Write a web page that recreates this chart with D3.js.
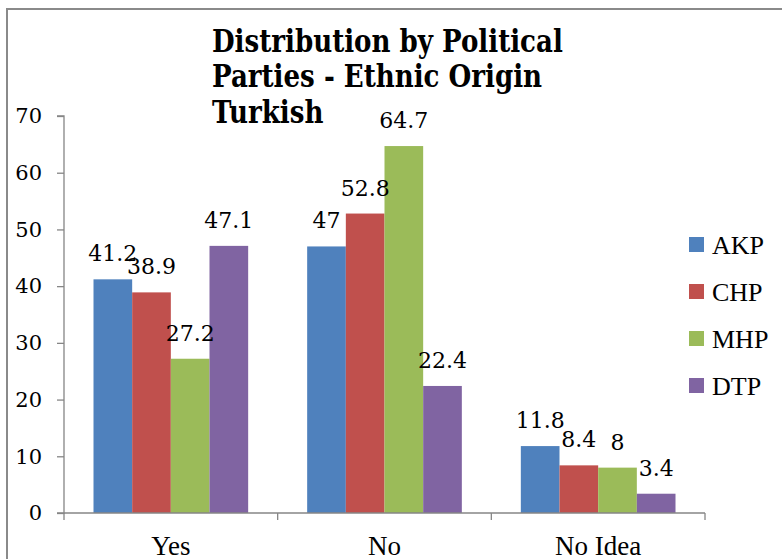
<!DOCTYPE html>
<html>
<head>
<meta charset="utf-8">
<script src="https://cdn.jsdelivr.net/npm/d3@7"></script>
<style>
  body { margin: 0; background: #fff; }
  svg { display: block; }
  .axis path, .axis line { stroke: #868686; stroke-width: 1.3; }
  .axis text { fill: #000; }
</style>
</head>
<body>
<svg id="chart" width="782" height="559"></svg>
<script>
var categories = ["Yes", "No", "No Idea"];
var parties = ["AKP", "CHP", "MHP", "DTP"];
var akpValues = [41.2, 47, 11.8];
var chpValues = [38.9, 52.8, 8.4];
var mhpValues = [27.2, 64.7, 8];
var dtpValues = [47.1, 22.4, 3.4];
var yTicks = [0, 10, 20, 30, 40, 50, 60, 70];
var titleLines = ["Distribution by Political", "Parties - Ethnic Origin", "Turkish"];

var seriesValues = [akpValues, chpValues, mhpValues, dtpValues];
var colors = ["#4F81BD", "#C0504D", "#9BBB59", "#8064A2"];

var svg = d3.select("#chart");

// chart frame (only top and left edges visible)
svg.append("path")
    .attr("d", "M7,559 L7,9 L782,9")
    .attr("fill", "none")
    .attr("stroke", "#8a8a8a")
    .attr("stroke-width", 2);

var plot = { left: 64, right: 705, top: 116, bottom: 513 };

var x = d3.scaleBand()
    .domain(categories)
    .range([plot.left, plot.right]);

var inner = d3.scaleBand()
    .domain(parties)
    .range([29.5, x.bandwidth() - 29.5]);

var y = d3.scaleLinear()
    .domain([0, 70])
    .range([plot.bottom, plot.top]);

// bars
var rows = [];
parties.forEach(function (p, i) {
    categories.forEach(function (c, j) {
        rows.push({ party: p, cat: c, value: seriesValues[i][j], color: colors[i] });
    });
});

svg.selectAll(".bar")
    .data(rows)
    .enter().append("rect")
    .attr("class", "bar")
    .attr("x", function (d) { return x(d.cat) + inner(d.party); })
    .attr("y", function (d) { return y(d.value); })
    .attr("width", inner.bandwidth())
    .attr("height", function (d) { return y(0) - y(d.value); })
    .attr("fill", function (d) { return d.color; });

// value labels
svg.selectAll(".bar-value")
    .data(rows)
    .enter().append("text")
    .attr("class", "bar-value")
    .attr("x", function (d) { return x(d.cat) + inner(d.party) + inner.bandwidth() / 2; })
    .attr("y", function (d) { return y(d.value) - 18; })
    .attr("text-anchor", "middle")
    .style("font-family", "'DejaVu Serif', serif")
    .style("font-size", "22px")
    .text(function (d) { return d.value; });

// y axis
var yAxis = svg.append("g")
    .attr("class", "axis")
    .attr("transform", "translate(" + plot.left + ",0)")
    .call(d3.axisLeft(y).tickValues(yTicks).tickSize(7).tickPadding(15));
yAxis.selectAll("text")
    .style("font-family", "'DejaVu Serif', serif")
    .style("font-size", "21px");
yAxis.select(".domain").attr("d", "M-7," + plot.top + "H0V" + plot.bottom + "H-7");

// x axis
var xAxis = svg.append("g")
    .attr("class", "axis")
    .attr("transform", "translate(0," + plot.bottom + ")");
xAxis.append("line")
    .attr("x1", plot.left).attr("x2", plot.right)
    .attr("y1", 0).attr("y2", 0);
xAxis.selectAll(".xtick")
    .data(categories.map(function (c) { return x(c); }).concat([plot.right]))
    .enter().append("line")
    .attr("class", "xtick")
    .attr("x1", function (d) { return d; }).attr("x2", function (d) { return d; })
    .attr("y1", 0).attr("y2", 7);
xAxis.selectAll(".xlabel")
    .data(categories)
    .enter().append("text")
    .attr("class", "xlabel")
    .attr("x", function (d) { return x(d) + x.bandwidth() / 2; })
    .attr("y", 42)
    .attr("text-anchor", "middle")
    .style("font-family", "'Liberation Serif', serif")
    .style("font-size", "27px")
    .text(function (d) { return d; });

// legend
var legend = svg.append("g").attr("transform", "translate(689,245)");
var items = legend.selectAll(".item")
    .data(parties)
    .enter().append("g")
    .attr("class", "item")
    .attr("transform", function (d, i) { return "translate(0," + (i * 47) + ")"; });
items.append("rect")
    .attr("x", 0).attr("y", -8)
    .attr("width", 15).attr("height", 15)
    .attr("fill", function (d, i) { return colors[i]; });
items.append("text")
    .attr("x", 23).attr("y", 9)
    .style("font-family", "'Liberation Serif', serif")
    .style("font-size", "26px")
    .text(function (d) { return d; });

// title: tall bold serif, squeezed so the first line spans about 351px
var titleG = svg.append("g").attr("transform", "translate(212,52)");
var title = titleG.append("text")
    .style("font-family", "'DejaVu Serif', serif")
    .style("font-weight", "bold")
    .style("font-size", "31px");
title.selectAll("tspan")
    .data(titleLines)
    .enter().append("tspan")
    .attr("x", 0)
    .attr("dy", function (d, i) { return i === 0 ? 0 : 35.5; })
    .text(function (d) { return d; });
var firstLine = title.select("tspan").node().getComputedTextLength();
title.attr("transform", "scale(" + (351 / firstLine) + ",1)");
</script>
</body>
</html>
